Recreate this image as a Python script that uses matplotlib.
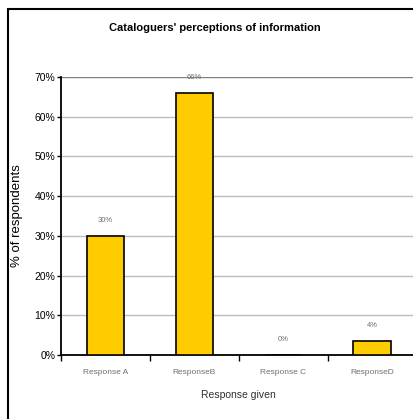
import matplotlib
matplotlib.use("Agg")
import matplotlib.pyplot as plt
from matplotlib.patches import Rectangle
import numpy as np

categories = ["Response A", "ResponseB", "Response C", "ResponseD"]
values = [30, 66, 0, 3.5]
yticks = [0, 10, 20, 30, 40, 50, 60, 70]
title = "Cataloguers' perceptions of information"
xlabel = "Response given"
ylabel = "% of respondents"

plt.rcParams['font.family'] = ['Liberation Sans', 'DejaVu Sans']

W, H = 413, 419
fig = plt.figure(figsize=(W / 100, H / 100), dpi=100)

# outer chart border (cut off at right and bottom)
fig.patches.append(Rectangle((8 / W, -0.05), 1.2, (H - 9) / H + 0.05,
                             transform=fig.transFigure, fill=False,
                             edgecolor='black', linewidth=1.5, clip_on=False))

ax = fig.add_axes([61 / W, 64 / H, 355.5 / W, 278 / H])
x = np.arange(len(categories))
ax.bar(x, values, width=0.42, color='#FFCC00', edgecolor='black', linewidth=1.2, zorder=3)
ax.set_xlim(-0.5, len(categories) - 0.5)
ax.set_ylim(0, 70)

for yv in yticks[1:]:
    ax.axhline(yv, color='#808080' if yv == 70 else '#bdbdbd', linewidth=1.0, zorder=1)

for xi, v in zip(x, values):
    ax.annotate(f"{v:.0f}%", (xi, v), xytext=(0, 11), textcoords='offset points',
                ha='center', va='center', fontsize=5.5, color='#707070')

for s in ['top', 'right']:
    ax.spines[s].set_visible(False)
ax.spines['left'].set_linewidth(1.3)
ax.spines['bottom'].set_linewidth(1.3)

ax.set_yticks(yticks)
ax.set_yticklabels([f"{t}%" for t in yticks], fontsize=7.5)
ax.tick_params(axis='y', direction='out', length=3, width=1, pad=1)

ax.set_xticks(np.arange(len(categories) + 1) - 0.5)
ax.set_xticklabels([])
ax.set_xticks(x, minor=True)
ax.set_xticklabels(categories, minor=True, fontsize=6, color='#707070')
ax.tick_params(axis='x', which='major', direction='out', length=4, width=1)
ax.tick_params(axis='x', which='minor', length=0, pad=10)

ax.set_xlabel(xlabel, fontsize=7.5, color='#303030', labelpad=10)
ax.set_ylabel(ylabel, fontsize=9.5, labelpad=8)

fig.text(215 / W, 1 - 28 / H, title, ha='center', va='center', fontsize=8, fontweight='bold')

fig.savefig("out.png", dpi=100)
